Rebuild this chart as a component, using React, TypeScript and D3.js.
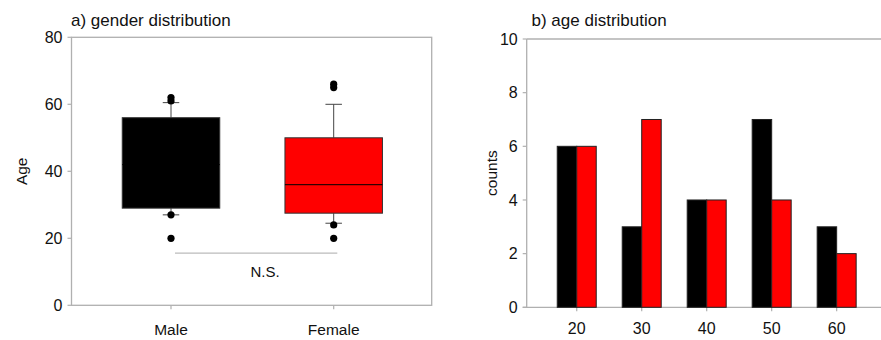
import React from "react";
import * as d3 from "d3";

// ---- Panel a: gender distribution (box plot) ----
const groups = ["Male", "Female"];
const q1 = [29, 27.5];
const median = [42, 36];
const q3 = [56, 50];
const whiskerLow = [27, 24.5];
const whiskerHigh = [60.5, 60];
const outliers = [
  [62, 61, 27, 20],
  [66, 65, 24, 20],
];
const boxColors = ["#000000", "#ff0000"];
const ageTicks = [0, 20, 40, 60, 80];
const nsLevel = 15.6;

// ---- Panel b: age distribution (grouped bars) ----
const ageBins = [20, 30, 40, 50, 60];
const maleCounts = [6, 3, 4, 7, 3];
const femaleCounts = [6, 7, 4, 4, 2];
const countTicks = [0, 2, 4, 6, 8, 10];

const FONT = "'Liberation Sans', Arial, sans-serif";
const TEXT = "#111";
const FRAME = "#b0b0b0";

export default function App() {
  // Panel a scales
  const aLeft = 71.5, aRight = 431.7, aTop = 37.3, aBottom = 305.3;
  const yA = d3.scaleLinear().domain([0, 80]).range([aBottom, aTop]);
  const xA = d3.scalePoint<string>().domain(groups).range([171, 333.7]);
  const boxW = 97.5;
  const capW = 16.5;

  // Panel b scales
  const bLeft = 526.7, bTop = 39, bBottom = 307.3;
  const yB = d3.scaleLinear().domain([0, 10]).range([bBottom, bTop]);
  const xB = d3.scaleLinear().domain([12.3, 67.7]).range([bLeft, bLeft + 360]);
  const barUnits = 3;

  return (
    <svg
      width={881}
      height={340}
      style={{ position: "absolute", left: 0, top: 0, background: "#fff" }}
      fontFamily={FONT}
    >
      {/* ===== Panel a ===== */}
      <text x={71} y={26} fontSize={17} fill={TEXT}>a) gender distribution</text>
      <rect x={aLeft} y={aTop} width={aRight - aLeft} height={aBottom - aTop} fill="none" stroke={FRAME} strokeWidth={1.3} />
      {ageTicks.map((t) => (
        <g key={"ya" + t}>
          <line x1={aLeft - 4} x2={aLeft} y1={yA(t)} y2={yA(t)} stroke={FRAME} strokeWidth={1.2} />
          <text x={aLeft - 9} y={yA(t)} dy="0.36em" textAnchor="end" fontSize={16} fill={TEXT}>{t}</text>
        </g>
      ))}
      {groups.map((g) => (
        <g key={"xa" + g}>
          <line x1={xA(g)} x2={xA(g)} y1={aBottom} y2={aBottom + 4} stroke={FRAME} strokeWidth={1.2} />
          <text x={xA(g)} y={335} textAnchor="middle" fontSize={15.5} fill={TEXT}>{g}</text>
        </g>
      ))}
      <text transform={`translate(21.5,${(aTop + aBottom) / 2}) rotate(-90)`} textAnchor="middle" dy="0.35em" fontSize={15.5} fill={TEXT}>Age</text>

      {groups.map((g, i) => {
        const cx = xA(g) as number;
        return (
          <g key={"box" + g}>
            <line x1={cx} x2={cx} y1={yA(q3[i])} y2={yA(whiskerHigh[i])} stroke="#444" strokeWidth={1} />
            <line x1={cx} x2={cx} y1={yA(q1[i])} y2={yA(whiskerLow[i])} stroke="#444" strokeWidth={1} />
            <line x1={cx - capW / 2} x2={cx + capW / 2} y1={yA(whiskerHigh[i])} y2={yA(whiskerHigh[i])} stroke="#444" strokeWidth={1} />
            <line x1={cx - capW / 2} x2={cx + capW / 2} y1={yA(whiskerLow[i])} y2={yA(whiskerLow[i])} stroke="#444" strokeWidth={1} />
            <rect x={cx - boxW / 2} y={yA(q3[i])} width={boxW} height={yA(q1[i]) - yA(q3[i])} fill={boxColors[i]} stroke="#333" strokeWidth={1} />
            <line x1={cx - boxW / 2} x2={cx + boxW / 2} y1={yA(median[i])} y2={yA(median[i])} stroke="#000" strokeWidth={1} />
            {outliers[i].map((o, j) => (
              <circle key={j} cx={cx} cy={yA(o)} r={3.6} fill="#000" />
            ))}
          </g>
        );
      })}
      <line x1={175} x2={337.3} y1={yA(nsLevel)} y2={yA(nsLevel)} stroke="#bbbbbb" strokeWidth={1.3} />
      <text x={265} y={276.5} textAnchor="middle" fontSize={15} fill={TEXT}>N.S.</text>

      {/* ===== Panel b ===== */}
      <text x={531.5} y={26} fontSize={17} fill={TEXT}>b) age distribution</text>
      <line x1={bLeft} x2={bLeft} y1={bTop} y2={bBottom} stroke={FRAME} strokeWidth={1.3} />
      <line x1={bLeft} x2={bLeft + 360} y1={bTop} y2={bTop} stroke={FRAME} strokeWidth={1.3} />
      <line x1={bLeft - 4} x2={bLeft + 360} y1={bBottom} y2={bBottom} stroke={FRAME} strokeWidth={1.3} />
      {countTicks.map((t) => (
        <g key={"yb" + t}>
          <line x1={bLeft - 4} x2={bLeft} y1={yB(t)} y2={yB(t)} stroke={FRAME} strokeWidth={1.2} />
          <text x={bLeft - 9} y={yB(t)} dy="0.36em" textAnchor="end" fontSize={16} fill={TEXT}>{t}</text>
        </g>
      ))}
      {ageBins.map((b) => (
        <g key={"xb" + b}>
          <line x1={xB(b)} x2={xB(b)} y1={bBottom} y2={bBottom + 4} stroke={FRAME} strokeWidth={1.2} />
          <text x={xB(b)} y={334} textAnchor="middle" fontSize={16} fill={TEXT}>{b}</text>
        </g>
      ))}
      <text transform={`translate(491.5,${(bTop + bBottom) / 2}) rotate(-90)`} textAnchor="middle" dy="0.35em" fontSize={15.5} fill={TEXT}>counts</text>

      {ageBins.map((b, i) => (
        <g key={"bar" + b}>
          <rect x={xB(b - barUnits)} y={yB(maleCounts[i])} width={xB(b) - xB(b - barUnits)} height={yB(0) - yB(maleCounts[i])} fill="#000" stroke="#222" strokeWidth={1} />
          <rect x={xB(b)} y={yB(femaleCounts[i])} width={xB(b + barUnits) - xB(b)} height={yB(0) - yB(femaleCounts[i])} fill="#ff0000" stroke="#222" strokeWidth={1} />
        </g>
      ))}
    </svg>
  );
}
